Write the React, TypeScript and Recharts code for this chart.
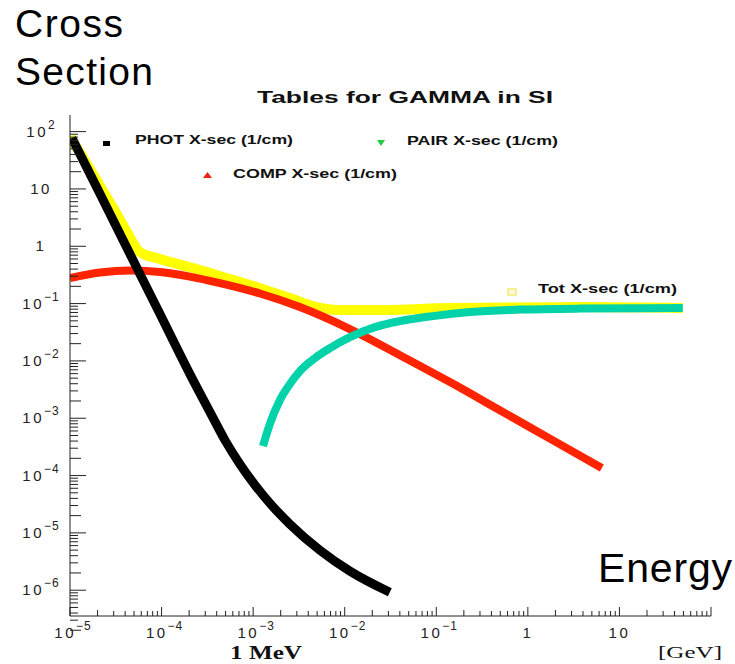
import React from 'react';
import { LineChart, Line, XAxis, YAxis } from 'recharts';

// energies in GeV, cross sections in 1/cm
const photEnergy = [1.05e-5, 2.13e-5, 4.52e-5, 9.61e-5, 2.04e-4, 3.38e-4, 4.92e-4, 7.18e-4, 1.05e-3, 1.52e-3, 2.52e-3, 5.36e-3, 1.14e-2, 3.11e-2];
const photXsec = [77.3, 8.15, 0.731, 0.0656, 5.89e-3, 1.28e-3, 4.15e-4, 1.58e-4, 6.8e-5, 3.3e-5, 1.42e-5, 4.99e-6, 2.15e-6, 9.2e-7];

const compEnergy = [1e-5, 2.13e-5, 4.52e-5, 9.61e-5, 2.04e-4, 4.34e-4, 1.19e-3, 3.24e-3, 1.14e-2, 4.01e-2, 0.141, 0.494, 1.74, 6.43];
const compXsec = [0.279, 0.348, 0.377, 0.355, 0.296, 0.228, 0.15, 0.0869, 0.0359, 0.0126, 4.27e-3, 1.38e-3, 4.41e-4, 1.35e-4];

const pairEnergy = [1.28e-3, 1.52e-3, 1.96e-3, 2.52e-3, 3.24e-3, 4.73e-3, 6.9e-3, 1.14e-2, 2.14e-2, 4.01e-2, 9.18e-2, 0.233, 0.818, 3.7, 49.2];
const pairXsec = [3.26e-4, 7.89e-4, 2.07e-3, 3.94e-3, 6.64e-3, 0.0112, 0.0167, 0.026, 0.0389, 0.0495, 0.0605, 0.0711, 0.0785, 0.0818, 0.0834];

const totEnergy = [1e-5, 1.46e-5, 2.13e-5, 3.1e-5, 4.19e-5, 5.81e-5, 9.61e-5, 2.2e-4, 5.58e-4, 1.19e-3, 2.52e-3, 4.98e-3, 8.87e-3, 2.61e-2, 0.141, 3.7, 49.2];
const totXsec = [80.6, 30.7, 11.2, 4.11, 1.77, 0.792, 0.598, 0.417, 0.268, 0.186, 0.125, 0.0868, 0.0771, 0.0771, 0.0834, 0.0868, 0.0834];

const xMajorTicks = [1e-5, 1e-4, 1e-3, 1e-2, 1e-1, 1, 10, 100];
const xMajorLabels = [['10', '−5'], ['10', '−4'], ['10', '−3'], ['10', '−2'], ['10', '−1'], ['1', ''], ['10', ''], ['', '']];
const yMajorTicks = [1e2, 10, 1, 1e-1, 1e-2, 1e-3, 1e-4, 1e-5, 1e-6];
const yMajorLabels = [['10', '2'], ['10', ''], ['1', ''], ['10', '−1'], ['10', '−2'], ['10', '−3'], ['10', '−4'], ['10', '−5'], ['10', '−6']];

const toPoints = (e: number[], s: number[]) => e.map((v, i) => ({ e: v, s: s[i] }));

// minor ticks at 2..9 of every decade
const minors = (decades: number[]) =>
  decades.flatMap(d => [2, 3, 4, 5, 6, 7, 8, 9].map(m => m * d));

const xTicks = [...xMajorTicks, ...minors(xMajorTicks.slice(0, -1))];
const yTicks = [...yMajorTicks, ...minors([1e-7, ...yMajorTicks.slice(1)])];

const PLOT_LEFT = 70;
const PLOT_BOTTOM = 616;
const SANS = '"Liberation Sans", Arial, sans-serif';
const SERIF = '"Liberation Serif", "Times New Roman", serif';

const majorIndex = (v: number, majors: number[]) =>
  majors.findIndex(m => Math.abs(Math.log10(m) - Math.log10(v)) < 1e-6);

const isTwo = (v: number) => {
  const f = Math.log10(v) - Math.floor(Math.log10(v) + 1e-9);
  return Math.abs(f - Math.log10(2)) < 1e-6;
};

const XTick = (props: any) => {
  const { x, payload } = props;
  const i = majorIndex(payload.value, xMajorTicks);
  const len = i >= 0 ? 9 : isTwo(payload.value) ? 6 : 5;
  const [base, exp] = i >= 0 ? xMajorLabels[i] : ['', ''];
  return (
    <g>
      <line x1={x} x2={x} y1={PLOT_BOTTOM} y2={PLOT_BOTTOM - len} stroke="#222" strokeWidth={1} />
      {base && (
        <text x={exp ? x + 3 : x} y={PLOT_BOTTOM + 22} textAnchor="middle" fontFamily={SANS} fontSize={15} letterSpacing={2.5} fill="#222">
          {base}
          {exp && <tspan dy={-8} fontSize={12} letterSpacing={1}>{exp}</tspan>}
        </text>
      )}
    </g>
  );
};

const YTick = (props: any) => {
  const { y, payload } = props;
  const i = majorIndex(payload.value, yMajorTicks);
  const len = i >= 0 ? 16 : isTwo(payload.value) ? 11 : 8;
  const [base, exp] = i >= 0 ? yMajorLabels[i] : ['', ''];
  return (
    <g>
      <line x1={PLOT_LEFT} x2={PLOT_LEFT + len} y1={y} y2={y} stroke="#222" strokeWidth={1} />
      {base && (
        <text x={41} y={y + 5} textAnchor="middle" fontFamily={SANS} fontSize={15} letterSpacing={2.5} fill="#222">
          {base}
          {exp && <tspan dy={-8} fontSize={12} letterSpacing={1}>{exp}</tspan>}
        </text>
      )}
    </g>
  );
};

const legendText = {
  fontFamily: SANS,
  fontSize: 12,
  fontWeight: 'bold' as const,
  fill: '#111',
  lengthAdjust: 'spacingAndGlyphs' as const,
};

export default function App() {
  return (
    <div style={{ position: 'absolute', left: 0, top: 0, width: 735, height: 664, background: '#fff' }}>
      <LineChart width={735} height={664} margin={{ top: 115, right: 24, bottom: 0, left: 0 }}>
        <XAxis
          dataKey="e"
          type="number"
          scale="log"
          domain={[1e-5, 100]}
          allowDataOverflow
          ticks={xTicks}
          interval={0}
          tickLine={false}
          tick={<XTick />}
          height={48}
          stroke="#222"
        />
        <YAxis
          dataKey="s"
          type="number"
          scale="log"
          domain={[Math.pow(10, -6.45), Math.pow(10, 2.29)]}
          allowDataOverflow
          ticks={yTicks}
          interval={0}
          tickLine={false}
          tick={<YTick />}
          width={70}
          stroke="#222"
        />
        <Line data={toPoints(totEnergy, totXsec)} dataKey="s" type="monotone" stroke="#ffff00" strokeWidth={10} dot={false} isAnimationActive={false} />
        <Line data={toPoints(compEnergy, compXsec)} dataKey="s" type="monotone" stroke="#ff2400" strokeWidth={8} dot={false} isAnimationActive={false} />
        <Line data={toPoints(pairEnergy, pairXsec)} dataKey="s" type="monotone" stroke="#00d2aa" strokeWidth={8} dot={false} isAnimationActive={false} />
        <Line data={toPoints(photEnergy, photXsec)} dataKey="s" type="monotone" stroke="#000000" strokeWidth={9} dot={false} isAnimationActive={false} />
      </LineChart>
      <svg width={735} height={664} style={{ position: 'absolute', left: 0, top: 0, pointerEvents: 'none' }}>
        <text x={15} y={37} fontFamily={SANS} fontSize={39} textLength={108} fill="#000">Cross</text>
        <text x={15} y={85} fontFamily={SANS} fontSize={39} textLength={138} fill="#000">Section</text>
        <text x={598} y={582} fontFamily={SANS} fontSize={41} textLength={134} fill="#000">Energy</text>
        <text x={257} y={103} fontFamily={SANS} fontSize={17} fontWeight="bold" textLength={296} lengthAdjust="spacingAndGlyphs" fill="#111">Tables for GAMMA in SI</text>

        <rect x={103} y={141} width={7} height={5} fill="#000" />
        <text x={135} y={144} {...legendText} textLength={158}>PHOT X-sec (1/cm)</text>
        <polygon points="377,140 385,140 381,146" fill="#22cc44" />
        <text x={407} y={145} {...legendText} textLength={151}>PAIR X-sec (1/cm)</text>
        <polygon points="203,178 212,178 207.5,172" fill="#ee2211" />
        <text x={233} y={178} {...legendText} textLength={164}>COMP X-sec (1/cm)</text>
        <rect x={508} y={289} width={8} height={6} fill="#fffbe0" stroke="#f2ee70" strokeWidth={1.5} />
        <text x={538} y={293} {...legendText} textLength={139}>Tot X-sec (1/cm)</text>

        <text x={230} y={659} fontFamily={SERIF} fontSize={18} fontWeight="bold" textLength={72} lengthAdjust="spacingAndGlyphs" fill="#111">1 MeV</text>
        <text x={658} y={658} fontFamily={SERIF} fontSize={17} textLength={64} lengthAdjust="spacingAndGlyphs" fill="#111">[GeV]</text>
      </svg>
    </div>
  );
}
